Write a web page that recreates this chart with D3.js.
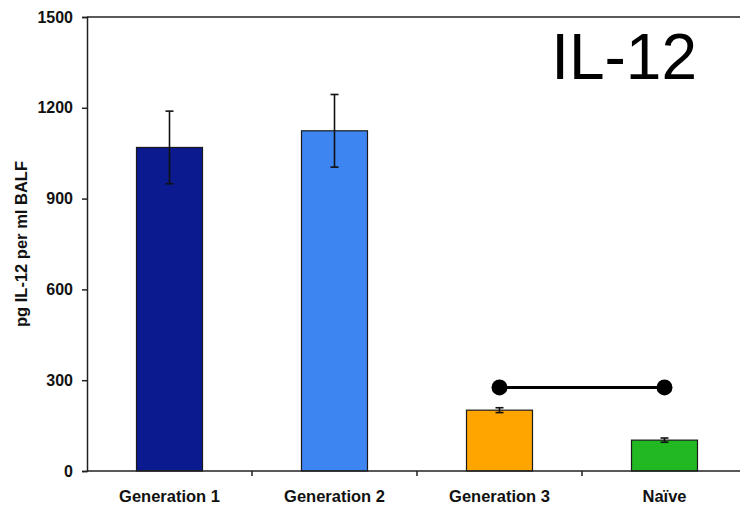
<!DOCTYPE html>
<html>
<head>
<meta charset="utf-8">
<script src="https://cdn.jsdelivr.net/npm/d3@7"></script>
<style>
  body { margin: 0; background: #fff; }
  svg { display: block; font-family: "Liberation Sans", Arial, sans-serif; }
</style>
</head>
<body>
<script>
// data
var groups = ["Generation 1", "Generation 2", "Generation 3", "Naïve"];
var means = [1069, 1124, 201, 102];
var errors = [120, 120, 8, 7];
var barColors = ["#0b1a8e", "#3d86f2", "#ffa500", "#21b821"];
var yTicks = [0, 300, 600, 900, 1200, 1500];
// significance bracket joins these two groups
var sigPair = ["Generation 3", "Naïve"];
var sigLevel = 276;

var width = 740, height = 505;
var margin = { top: 17, right: -7, bottom: 34, left: 87 };

var svg = d3.select("body").append("svg")
  .attr("width", width)
  .attr("height", height);

var x = d3.scaleBand()
  .domain(groups)
  .range([margin.left, width - margin.right])
  .paddingInner(0.6)
  .paddingOuter(0.3);

// outer band (category cells) for the tick positions
var xCell = d3.scaleBand()
  .domain(groups)
  .range([margin.left, width - margin.right]);

var y = d3.scaleLinear()
  .domain([0, 1500])
  .range([height - margin.bottom, margin.top]);

// top frame line
svg.append("line")
  .attr("x1", margin.left).attr("x2", width)
  .attr("y1", y(1500)).attr("y2", y(1500))
  .attr("stroke", "#222").attr("stroke-width", 1.5);

// bars
svg.selectAll("rect.bar")
  .data(groups)
  .enter().append("rect")
  .attr("class", "bar")
  .attr("x", function (d) { return x(d); })
  .attr("width", x.bandwidth())
  .attr("y", function (d, i) { return y(means[i]); })
  .attr("height", function (d, i) { return y(0) - y(means[i]); })
  .attr("fill", function (d, i) { return barColors[i]; })
  .attr("stroke", "#1a1a1a")
  .attr("stroke-width", 1.2);

// error bars
var eb = svg.selectAll("g.err")
  .data(groups)
  .enter().append("g")
  .attr("class", "err")
  .attr("stroke", "#111")
  .attr("stroke-width", 1.6);

eb.append("line")
  .attr("x1", function (d) { return x(d) + x.bandwidth() / 2; })
  .attr("x2", function (d) { return x(d) + x.bandwidth() / 2; })
  .attr("y1", function (d, i) { return y(means[i] + errors[i]); })
  .attr("y2", function (d, i) { return y(means[i] - errors[i]); });

[1, -1].forEach(function (s) {
  eb.append("line")
    .attr("x1", function (d) { return x(d) + x.bandwidth() / 2 - 4; })
    .attr("x2", function (d) { return x(d) + x.bandwidth() / 2 + 4; })
    .attr("y1", function (d, i) { return y(means[i] + s * errors[i]); })
    .attr("y2", function (d, i) { return y(means[i] + s * errors[i]); });
});

// y axis
var yAxis = svg.append("g")
  .attr("transform", "translate(" + margin.left + ",0)")
  .call(d3.axisLeft(y).tickValues(yTicks).tickFormat(d3.format("d")).tickSize(5).tickPadding(9));
yAxis.select(".domain").attr("stroke", "#222").attr("stroke-width", 1.5);
yAxis.selectAll(".tick line").attr("stroke", "#222").attr("stroke-width", 1.5);
yAxis.selectAll(".tick text")
  .attr("font-size", 16).attr("font-weight", "bold").attr("fill", "#111")
  .attr("font-family", "Liberation Sans, Arial, sans-serif");

// x axis: ticks at category boundaries
var xAxisG = svg.append("g")
  .attr("transform", "translate(0," + y(0) + ")");
xAxisG.append("line")
  .attr("x1", margin.left).attr("x2", width)
  .attr("stroke", "#222").attr("stroke-width", 1.5);
xAxisG.selectAll("line.tk")
  .data(groups.slice(1))
  .enter().append("line")
  .attr("class", "tk")
  .attr("x1", function (d) { return xCell(d); })
  .attr("x2", function (d) { return xCell(d); })
  .attr("y1", 0).attr("y2", 5)
  .attr("stroke", "#222").attr("stroke-width", 1.5);
xAxisG.selectAll("text")
  .data(groups)
  .enter().append("text")
  .attr("x", function (d) { return x(d) + x.bandwidth() / 2; })
  .attr("y", 31)
  .attr("text-anchor", "middle")
  .attr("font-size", 16.5).attr("font-weight", "bold").attr("fill", "#111")
  .text(function (d) { return d; });

// y axis title
svg.append("text")
  .attr("transform", "translate(27," + ((y(0) + y(1500)) / 2) + ") rotate(-90)")
  .attr("text-anchor", "middle")
  .attr("font-size", 16.5).attr("font-weight", "bold").attr("fill", "#111")
  .text("pg IL-12 per ml BALF");

// significance line with dots
var sx = sigPair.map(function (d) { return x(d) + x.bandwidth() / 2; });
svg.append("line")
  .attr("x1", sx[0]).attr("x2", sx[1])
  .attr("y1", y(sigLevel)).attr("y2", y(sigLevel))
  .attr("stroke", "#000").attr("stroke-width", 3);
svg.selectAll("circle.sig")
  .data(sx)
  .enter().append("circle")
  .attr("class", "sig")
  .attr("cx", function (d) { return d; })
  .attr("cy", y(sigLevel))
  .attr("r", 8)
  .attr("fill", "#000");

// big title
svg.append("text")
  .attr("x", 697).attr("y", 79)
  .attr("text-anchor", "end")
  .attr("font-size", 64).attr("fill", "#000")
  .text("IL-12");
</script>
</body>
</html>
